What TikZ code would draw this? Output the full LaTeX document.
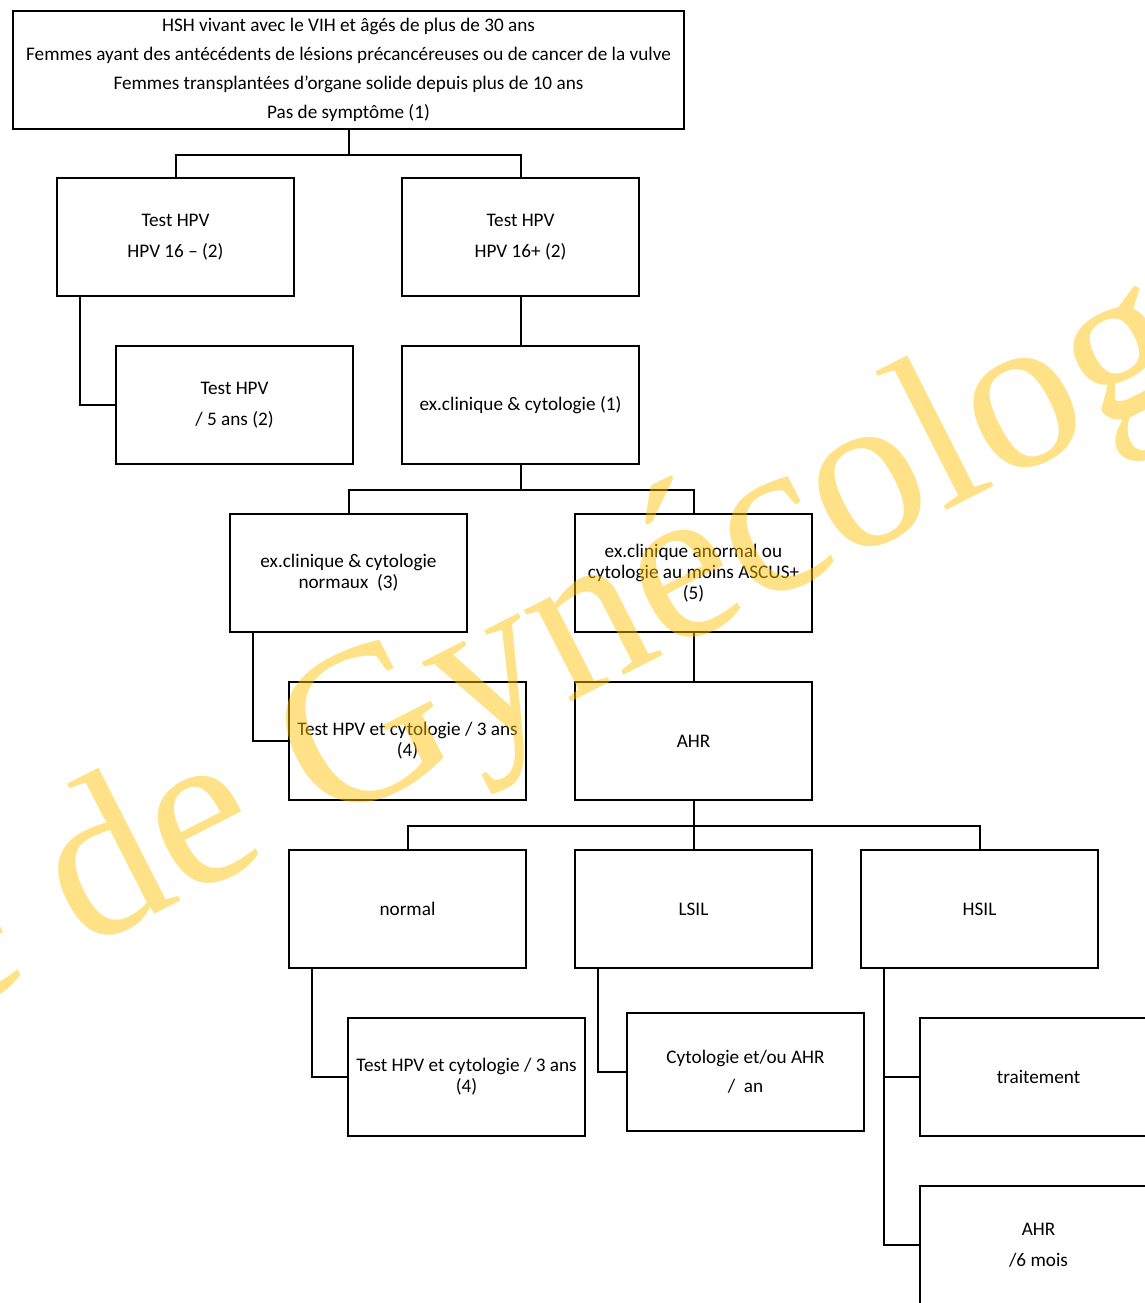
\documentclass[tikz,border=0pt]{standalone}
\usepackage{fontspec}
\setmainfont{Carlito}
\newfontfamily\wmfont{Liberation Serif}
\usepackage{tikz}
\usetikzlibrary{calc}
\usepackage{xcolor}
\definecolor{wmyellow}{RGB}{255,192,0}

\begin{document}
\begin{tikzpicture}[x=0.5pt,y=-0.5pt,
  box/.style={draw,line width=1pt,minimum width=118.5pt,minimum height=59pt,
    align=center,inner sep=2pt,font=\fontsize{9.6}{10.5}\selectfont},
  link/.style={line width=1pt},
  wmark/.style={text=wmyellow,text opacity=0.47,inner sep=0pt,
    font=\wmfont\fontsize{112}{112}\selectfont}]
\useasboundingbox (0,0) rectangle (1145,1303);
\clip (0,0) rectangle (1145,1303);

\node[box,minimum width=335.5pt] (top) at (348.5,70) {HSH vivant avec le VIH et âgés de plus de 30 ans\\[4pt]
  Femmes ayant des antécédents de lésions précancéreuses ou de cancer de la vulve\\[4pt]
  Femmes transplantées d’organe solide depuis plus de 10 ans\\[4pt]
  Pas de symptôme (1)};

\node[box] (hpvneg) at (175.5,237) {Test HPV\\[5pt]HPV 16 – (2)};
\node[box] (hpvpos) at (520.5,237) {Test HPV\\[5pt]HPV 16+ (2)};
\node[box] (cinqans) at (234.5,405) {Test HPV\\[5pt]/ 5 ans (2)};
\node[box] (examen) at (520.5,405) {ex.clinique \& cytologie (1)};
\node[box] (normaux) at (348.5,573) {ex.clinique \& cytologie\\normaux \ (3)};
\node[box] (anormal) at (693.5,573) {ex.clinique anormal ou\\cytologie au moins ASCUS+\\(5)};
\node[box] (suivi) at (407.5,741) {Test HPV et cytologie / 3 ans\\(4)};
\node[box] (ahr) at (693.5,741) {AHR};
\node[box] (normal) at (407.5,909) {normal};
\node[box] (lsil) at (693.5,909) {LSIL};
\node[box] (hsil) at (979.5,909) {HSIL};
\node[box] (suivib) at (466.5,1077) {Test HPV et cytologie / 3 ans\\(4)};
\node[box] (cytoahr) at (745.5,1072) {Cytologie et/ou AHR\\[4pt]/ \ an};
\node[box] (traitement) at (1038.5,1077) {traitement};
\node[box] (ahrsix) at (1038.5,1245) {AHR\\[5pt]/6 mois};

\draw[link] (top.south) -- ++(0,25) -| (hpvneg.north);
\draw[link] (top.south) -- ++(0,25) -| (hpvpos.north);
\draw[link] ([xshift=12pt]hpvneg.south west) |- (cinqans.west);
\draw[link] (hpvpos.south) -- (examen.north);
\draw[link] (examen.south) -- ++(0,25) -| (normaux.north);
\draw[link] (examen.south) -- ++(0,25) -| (anormal.north);
\draw[link] ([xshift=12pt]normaux.south west) |- (suivi.west);
\draw[link] (anormal.south) -- (ahr.north);
\draw[link] (ahr.south) -- ++(0,25) -| (normal.north);
\draw[link] (ahr.south) -- ++(0,25) -| (lsil.north);
\draw[link] (ahr.south) -- ++(0,25) -| (hsil.north);
\draw[link] ([xshift=12pt]normal.south west) |- (suivib.west);
\draw[link] ([xshift=12pt]lsil.south west) |- (cytoahr.west);
\draw[link] ([xshift=12pt]hsil.south west) |- (traitement.west);
\draw[link] ([xshift=12pt]hsil.south west) |- (ahrsix.west);

\node[wmark,rotate=27,anchor=base west] (filigrane) at (-55,1021) {e de Gynécologie};
\end{tikzpicture}
\end{document}
